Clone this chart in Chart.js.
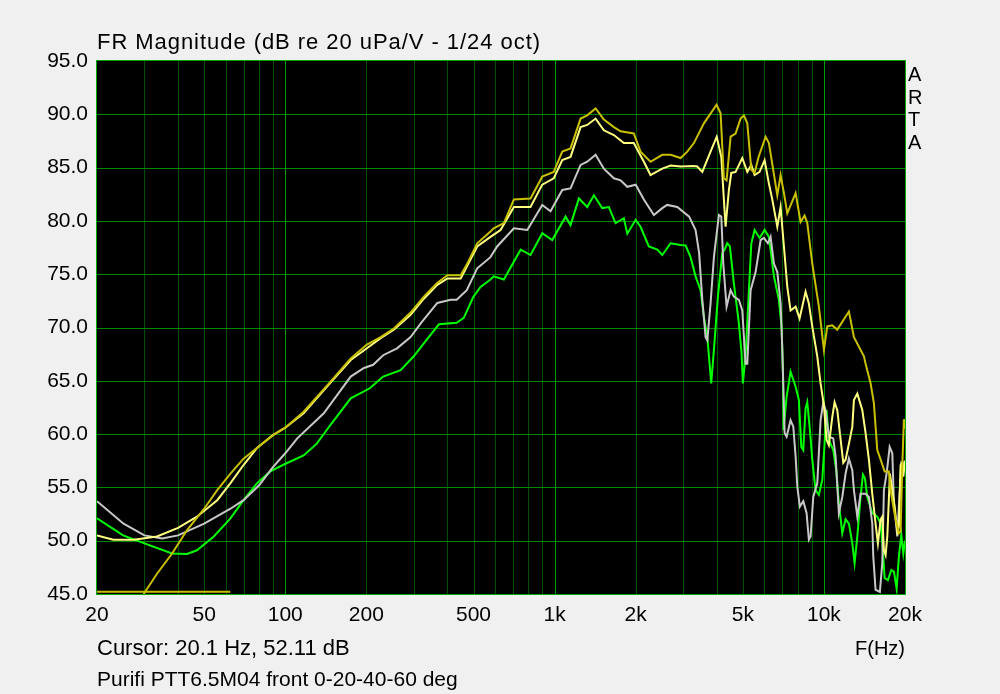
<!DOCTYPE html>
<html>
<head>
<meta charset="utf-8">
<script src="https://cdn.jsdelivr.net/npm/chart.js@4"></script>
<style>
  html, body { margin: 0; padding: 0; background: #f0f0f0; }
  #wrap { position: relative; width: 1000px; height: 694px; background: #f0f0f0; overflow: hidden; }
  canvas { position: absolute; left: 0; top: 0; }
  .t { position: absolute; font-family: "Liberation Sans", Arial, sans-serif; font-size: 20px; line-height: 20px; color: #000; white-space: nowrap; }
</style>
</head>
<body>
<div id="wrap">
  <canvas id="c" width="1000" height="694"></canvas>
  <div class="t" style="left:97px; top:31px; font-size:22px; line-height:22px; letter-spacing:0.95px;">FR Magnitude (dB re 20 uPa/V - 1/24 oct)</div>
  <div class="t" style="left:908px; top:63px; line-height:22.5px;">A<br>R<br>T<br>A</div>
  <div class="t" style="left:97px; top:637px; font-size:22px; line-height:22px;">Cursor: 20.1 Hz, 52.11 dB</div>
  <div class="t" style="right:95px; top:638px;">F(Hz)</div>
  <div class="t" style="left:97px; top:668px; font-size:21px; line-height:21px;">Purifi PTT6.5M04 front 0-20-40-60 deg</div>
</div>
<script>
// ---- tick labels / grid positions ----
const xMajorTicks = [20, 50, 100, 200, 500, 1000, 2000, 5000, 10000, 20000];
const xMajorLabels = ["20", "50", "100", "200", "500", "1k", "2k", "5k", "10k", "20k"];
const xGridValues = [30,40,50,60,70,80,90,100,200,300,400,500,600,700,800,900,
                     1000,2000,3000,4000,5000,6000,7000,8000,9000,10000];
const xDecadeValues = [100, 1000, 10000];

// ---- series: 0 deg (olive) ----
const freq0 = [29.8,33.4,38,43.2,50,55.9,62.6,70,82,90,100,117,147,175,201,226,253,292,327,367,400,448,472,516,578,594,648,706,814,900,993,1068,1146,1249,1322,1420,1524,1660,1758,1968,2085,2271,2511,2696,2937,3109,3290,3584,3994,4134,4252,4351,4503,4699,4904,5045,5194,5376,5528,5720,6074,6248,6713,6905,7104,7312,7850,8192,8477,8673,9052,9578,10000,10292,10740,11210,12382,12924,14078,14280,14906,15330,15780,16240,16800,17430,17680,18100,18460,18980,19260,19540,19810,20000];
const db0 = [45.0,46.9,48.8,51.0,53.0,54.75,56.3,57.7,59.1,59.9,60.6,62.1,64.9,67.1,68.4,69.1,69.9,71.4,72.9,74.2,74.9,74.9,75.9,77.9,79.0,79.3,79.8,82.0,82.1,84.15,84.6,86.5,86.8,89.6,89.9,90.55,89.5,88.8,88.4,88.2,86.5,85.55,86.2,86.2,85.9,86.5,87.3,89.15,90.9,90.1,84.0,83.8,87.9,88.2,89.6,89.9,89.15,84.8,84.5,86.0,87.9,87.3,82.4,84.3,82.6,80.7,82.6,79.9,80.5,79.8,76.0,71.95,67.9,70.1,70.2,69.8,71.5,69.1,67.3,66.6,64.75,62.9,58.5,57.6,56.5,56.5,54.75,53.2,52.0,50.7,50.85,56.95,61.4,60.5];

// ---- series: 20 deg (light yellow) ----
const freq20 = [20,23,27.4,33.4,40,47,55.9,62.6,70,78.6,90,100,117,147,175,201,226,253,292,327,367,400,448,472,516,578,630,706,814,900,993,1068,1146,1249,1322,1420,1524,1660,1808,1968,2145,2271,2511,2696,2937,3290,3385,3536,3794,4000,4159,4252,4314,4438,4530,4699,4976,5194,5376,5528,5770,6022,6248,6432,6713,6905,7104,7312,7518,7850,8121,8548,8793,9052,9448,9718,10000,10230,10432,10740,10954,11210,11462,11802,12036,12382,12748,12924,13304,13884,14280,14688,15120,15552,15864,16240,16470,16700,16944,17192,17580,17944,18304,18730,18980,19260,19540,19712,20000];
const db20 = [50.5,50.1,50.1,50.4,51.2,52.25,53.8,55.4,57.1,58.7,59.9,60.6,61.95,64.8,66.95,68.05,69.0,69.8,71.2,72.7,74.0,74.6,74.6,75.7,77.6,78.5,79.15,81.3,81.3,83.4,84.0,85.7,86.0,88.8,89.0,89.6,88.5,88.05,87.3,87.3,85.55,84.3,84.9,85.2,85.1,85.15,85.1,84.6,86.5,87.9,86.0,82.0,79.45,82.9,84.5,84.6,85.9,84.6,85.25,84.3,84.6,85.7,83.5,82.0,79.45,81.3,77.6,73.8,71.6,71.95,70.85,73.35,72.25,70.1,67.3,64.75,62.7,59.45,58.95,61.6,63.0,62.25,60.1,57.3,57.6,59.1,60.7,63.2,63.8,62.25,60.1,57.6,54.4,51.6,49.75,52.0,52.25,49.1,48.65,50.4,56.3,54.75,53.2,50.85,51.3,57.1,57.3,56.0,57.5];

// ---- series: 40 deg (grey) ----
const freq40 = [20,25.1,30,34.9,40,50,62.6,70,80,90,100,110.8,139,175,196,212,231,260,292,319,367,411,433,472,516,578,612,706,792,900,966,1068,1146,1249,1322,1420,1524,1660,1758,1862,2000,2145,2337,2511,2618,2854,3160,3338,3440,3536,3636,3690,3794,3904,4074,4159,4230,4351,4503,4630,4833,4976,5118,5194,5344,5576,5820,5985,6194,6338,6522,6713,6905,7008,7146,7270,7518,7696,7850,7964,8140,8382,8621,8793,8922,9130,9448,9718,9944,10144,10432,10832,11050,11364,11700,12036,12382,12748,12924,13304,13680,14280,14688,15120,15250,15552,16136,16470,16700,17090,17540,17944,18194,18730,18980,19378,19712,20000];
const db40 = [53.7,51.6,50.5,50.2,50.5,51.6,53.0,53.8,55.2,56.9,58.2,59.6,61.95,65.4,66.2,66.5,67.4,68.05,69.1,70.4,72.3,72.6,72.6,73.5,75.55,76.6,77.6,79.3,79.15,81.5,80.9,82.9,83.05,85.25,85.55,86.2,84.9,84.0,83.8,83.2,83.4,82.0,80.55,81.2,81.5,81.3,80.4,79.15,77.0,72.6,69.1,68.8,72.25,76.6,80.55,80.4,76.0,71.95,73.5,72.9,72.6,71.6,66.6,66.6,73.5,75.2,78.2,78.4,77.9,78.5,76.0,75.2,72.25,67.9,60.1,59.75,61.3,60.7,57.9,55.1,53.2,53.7,52.6,50.1,50.4,54.1,55.4,61.3,63.0,62.25,59.75,59.6,57.9,52.6,54.1,56.3,57.7,56.6,54.75,52.25,54.4,54.4,54.1,51.6,48.5,45.4,45.2,47.9,54.75,56.3,58.8,58.2,53.5,50.4,53.2,57.3,57.1,57.5];

// ---- series: 60 deg (green) ----
const freq60 = [20,25,30,38,43.2,47,54.3,62.6,70,78.6,88,98,117,131,147,175,206,231,268,300,327,372,433,460,500,531,578,594,648,748,814,900,980,1099,1146,1231,1322,1399,1503,1590,1684,1808,1862,2000,2085,2239,2407,2511,2696,2937,3064,3198,3338,3484,3584,3690,3816,3904,4040,4194,4277,4377,4476,4630,4833,4946,5000,5118,5266,5376,5528,5770,6022,6248,6522,6806,6966,7044,7080,7270,7518,7850,8073,8241,8382,8548,8673,8870,9052,9312,9578,9860,10056,10230,10432,10832,11114,11364,11700,12036,12382,12748,12998,13304,13680,13958,14198,14488,15120,15780,16240,16612,16800,17280,17792,18194,18618,18980,19378,19712,20000];
const db60 = [52.1,50.5,49.75,48.8,48.75,49.1,50.4,52.1,53.8,55.4,56.5,57.1,58.0,59.1,60.85,63.35,64.3,65.4,66.0,67.3,68.5,70.3,70.45,70.9,72.9,73.8,74.5,74.8,74.5,77.3,76.8,78.85,78.2,80.4,79.6,82.1,81.3,82.4,81.2,81.3,79.8,80.25,78.8,80.1,79.45,77.6,77.3,76.8,77.9,77.75,77.7,76.6,74.8,73.5,71.0,69.1,64.75,67.9,72.9,77.0,77.3,77.9,77.6,74.15,70.4,67.6,64.75,67.3,73.5,77.9,79.15,78.4,79.15,78.5,74.8,72.6,70.0,65.7,60.4,63.5,65.85,64.45,63.2,58.8,58.5,62.4,63.0,60.4,57.6,54.75,54.3,55.7,59.1,62.25,59.45,58.5,56.6,53.5,50.7,52.0,51.6,49.75,47.9,50.4,54.1,56.2,55.85,54.1,52.6,52.25,51.6,48.5,46.5,46.3,47.25,47.1,45.5,48.5,50.55,48.8,50.0];

// ---- low-frequency floor trace (olive) ----
const freqFloor = [20, 62.5];
const dbFloor = [45.2, 45.2];

function pts(f, d) { return f.map((v, i) => ({ x: v, y: d[i] })); }

// black plot area, custom crisp grid, green frame
const plotBg = {
  id: 'plotBg',
  beforeDatasetsDraw(chart) {
    const { ctx, chartArea: a, scales } = chart;
    ctx.save();
    ctx.fillStyle = 'rgb(0,0,0)';
    ctx.fillRect(a.left, a.top, a.right - a.left, a.bottom - a.top);
    const top = Math.round(a.top), h = Math.round(a.bottom) - top;
    xGridValues.forEach(v => {
      const px = Math.round(scales.x.getPixelForValue(v));
      ctx.fillStyle = xDecadeValues.includes(v) ? 'rgb(0,160,0)' : 'rgb(0,80,0)';
      ctx.fillRect(px, top, 1, h);
    });
    const left = Math.round(a.left), w = Math.round(a.right) - left;
    for (let v = 50; v < 95; v += 5) {
      const py = Math.round(scales.y.getPixelForValue(v));
      ctx.fillStyle = 'rgb(0,136,0)';
      ctx.fillRect(left, py, w, 1);
    }
    ctx.restore();
  },
  afterDraw(chart) {
    const { ctx, chartArea: a } = chart;
    ctx.save();
    ctx.strokeStyle = 'rgb(0,168,0)';
    ctx.lineWidth = 1;
    const l = Math.round(a.left) - 0.5, t = Math.round(a.top) - 0.5;
    const r = Math.round(a.right) + 0.5, b = Math.round(a.bottom) + 0.5;
    ctx.strokeRect(l, t, r - l, b - t);
    ctx.restore();
  }
};

const mk = (label, data, color) => ({
  label, data, borderColor: color, backgroundColor: color,
  borderWidth: 2, pointRadius: 0, tension: 0, fill: false
});

const tickFont = { family: 'Liberation Sans, Arial, sans-serif', size: 21 };

new Chart(document.getElementById('c'), {
  type: 'line',
  data: {
    datasets: [
      mk('floor', pts(freqFloor, dbFloor), 'rgb(200,192,0)'),
      mk('0 deg', pts(freq0, db0), 'rgb(200,192,0)'),
      mk('20 deg', pts(freq20, db20), 'rgb(255,255,128)'),
      mk('40 deg', pts(freq40, db40), 'rgb(200,200,200)'),
      mk('60 deg', pts(freq60, db60), 'rgb(0,255,0)')
    ]
  },
  options: {
    responsive: false,
    animation: false,
    layout: { padding: { left: 0, right: 95, top: 61, bottom: 0 } },
    plugins: { legend: { display: false }, tooltip: { enabled: false }, title: { display: false } },
    scales: {
      x: {
        type: 'logarithmic',
        min: 20, max: 20000,
        afterBuildTicks(scale) { scale.ticks = xMajorTicks.map(v => ({ value: v })); },
        afterFit(scale) { scale.height = 100; },
        ticks: {
          autoSkip: false, maxRotation: 0, minRotation: 0, padding: 9,
          color: '#000', font: tickFont,
          callback(value) {
            const i = xMajorTicks.indexOf(value);
            return i >= 0 ? xMajorLabels[i] : '';
          }
        },
        grid: { display: false, drawTicks: false },
        border: { display: false }
      },
      y: {
        type: 'linear',
        min: 45, max: 95,
        afterFit(scale) { scale.width = 97; },
        ticks: {
          stepSize: 5, padding: 9, color: '#000', font: tickFont,
          callback(v) { return Number(v).toFixed(1); }
        },
        grid: { display: false, drawTicks: false },
        border: { display: false }
      }
    }
  },
  plugins: [plotBg]
});
</script>
</body>
</html>
